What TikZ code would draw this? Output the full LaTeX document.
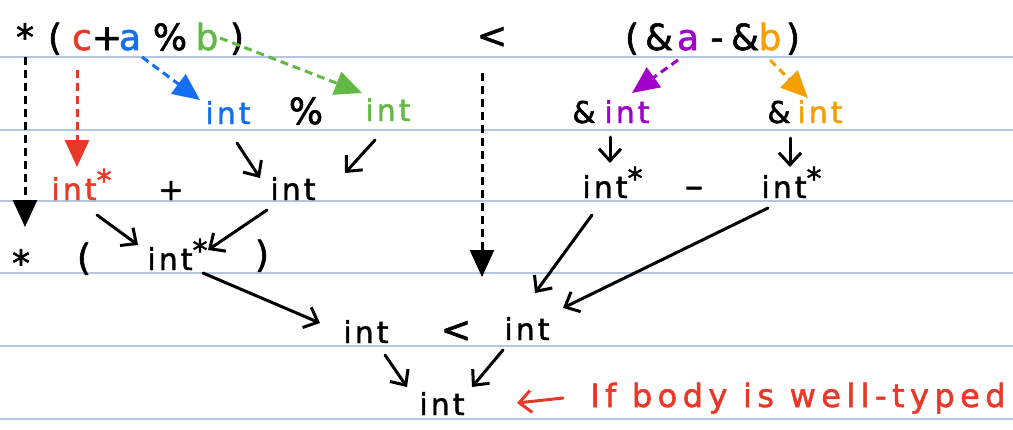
\documentclass[tikz,border=0pt]{standalone}
\usepackage{fontspec}
\setmainfont{DejaVu Sans}[LetterSpace=10,FakeBold=1.6]
\usetikzlibrary{arrows.meta}
\definecolor{cred}{RGB}{234,56,40}
\definecolor{cblue}{RGB}{20,110,240}
\definecolor{cgreen}{RGB}{100,185,70}
\definecolor{cpurple}{RGB}{160,0,200}
\definecolor{corange}{RGB}{245,160,0}
\definecolor{rulecol}{RGB}{180,198,224}
\newcommand\mystar{\rlap{\raisebox{.3em}{*}}}
\begin{document}
\begin{tikzpicture}[x=1pt,y=-1pt,
  big/.style={font=\fontsize{36}{40}\selectfont,anchor=base,inner sep=0pt},
  tok/.style={font=\fontsize{30}{34}\selectfont,anchor=base,inner sep=0pt},
  note/.style={font=\fontsize{32}{36}\selectfont\addfontfeatures{LetterSpace=17},anchor=base west,inner sep=0pt,text=cred},
  typarrow/.style={line width=3pt,dash pattern=on 8pt off 5pt,-{Triangle[length=27pt,width=24pt]}},
  redarrow/.style={line width=3pt,line cap=round,-{Straight Barb[length=12pt,width=22pt]}}]
\fill[white] (0,0) rectangle (1013,429);
\useasboundingbox (0,0) rectangle (1013,429);
\foreach \yy in {57,130,201,273,346,419}
  \draw[rulecol,line width=1.5pt] (0,\yy) -- (1013,\yy);

% row 0
\node[big] (star0) at (25,50) {*};
\node[big] (lp0) at (55,50) {(};
\node[big,text=cred] (c) at (82,50) {c};
\node[big] (plus0) at (107,50) {+};
\node[big,text=cblue] (a) at (130,50) {a};
\node[big] (pct0) at (170,50) {\%};
\node[big,text=cgreen] (b) at (207,50) {b};
\node[big] (rp0) at (237,50) {)};
\node[big] (lt0) at (492,48) {<};
\node[big] (lp1) at (632,50) {(};
\node[big] (amp1) at (659,50) {\&};
\node[big,text=cpurple] (a2) at (688,50) {a};
\node[big] (minus0) at (717,50) {-};
\node[big] (amp2) at (745,50) {\&};
\node[big,text=corange] (b2) at (770,50) {b};
\node[big] (rp1) at (793,50) {)};

% row 1
\node[tok,text=cblue] (intB) at (228,124) {int};
\node[big] (pct1) at (306,124) {\%};
\node[tok,text=cgreen] (intG) at (388,121) {int};
\node[tok] (amp3) at (584,123) {\&};
\node[tok,text=cpurple] (intP) at (627,123) {int};
\node[tok] (amp4) at (779,123) {\&};
\node[tok,text=corange] (intO) at (820,123) {int};

% row 2
\node[tok,text=cred] (intR) at (74,200) {int\mystar};
\node[tok] (plus2) at (171,200) {+};
\node[tok] (intK) at (293,200) {int};
\node[tok] (intS1) at (605,198) {int\mystar};
\node[big] (dash2) at (694,198) {–};
\node[tok] (intS2) at (784,198) {int\mystar};

% row 3
\node[big] (star3) at (21,276) {*};
\node[big] (lp3) at (84,270) {(};
\node[tok] (intT) at (170,270) {int\mystar};
\node[big] (rp3) at (262,267) {)};

% row 4
\node[tok] (intL) at (366,343) {int};
\node[big] (lt4) at (456,342) {<};
\node[tok] (intRt) at (527,340) {int};

% row 5
\node[tok] (intF) at (442,415) {int};
\node[note] (txt) at (590,407) {If body is well-typed};

% dashed typing arrows
\draw[typarrow] ([shift={(0,7)}]star0.base) -- ([shift={(4,-49)}]star3.base);
\draw[typarrow,cred] ([shift={(-5,20)}]c.base) -- ([shift={(3,-33)}]intR.base);
\draw[typarrow,cblue] ([shift={(12,7)}]a.base) -- ([shift={(-28,-24)}]intB.base);
\draw[typarrow,cgreen] ([shift={(13,-12)}]b.base) -- ([shift={(-26,-28)}]intG.base);
\draw[typarrow] ([shift={(-10,25)}]lt0.base) -- ([shift={(-45,-63)}]intRt.base);
\draw[typarrow,cpurple] ([shift={(-10,10)}]a2.base) -- ([shift={(5,-30)}]intP.base);
\draw[typarrow,corange] ([shift={(0,10)}]b2.base) -- ([shift={(-12,-25)}]intO.base);

% solid derivation arrows
\draw[redarrow] ([shift={(9,19)}]intB.base) -- ([shift={(-33,-22)}]intK.base);
\draw[redarrow] ([shift={(-13,19)}]intG.base) -- ([shift={(52,-27)}]intK.base);
\draw[redarrow] ([shift={(-17,14)}]intP.base) -- ([shift={(5,-35)}]intS1.base);
\draw[redarrow] ([shift={(-30,15)}]intO.base) -- ([shift={(6,-31)}]intS2.base);
\draw[redarrow] ([shift={(23,15)}]intR.base) -- ([shift={(-32,-25)}]intT.base);
\draw[redarrow] ([shift={(-26,10)}]intK.base) -- ([shift={(38,-20)}]intT.base);
\draw[redarrow] ([shift={(33,3)}]intT.base) -- ([shift={(-46,-20)}]intL.base);
\draw[redarrow] ([shift={(-13,17)}]intS1.base) -- ([shift={(8,-47)}]intRt.base);
\draw[redarrow] ([shift={(-16,10)}]intS2.base) -- ([shift={(36,-32)}]intRt.base);
\draw[redarrow] ([shift={(19,12)}]intL.base) -- ([shift={(-35,-28)}]intF.base);
\draw[redarrow] ([shift={(-24,10)}]intRt.base) -- ([shift={(30,-28)}]intF.base);
\draw[redarrow,cred] ([shift={(-27,-9)}]txt.base west) -- ([shift={(-73,-4)}]txt.base west);
\end{tikzpicture}
\end{document}
